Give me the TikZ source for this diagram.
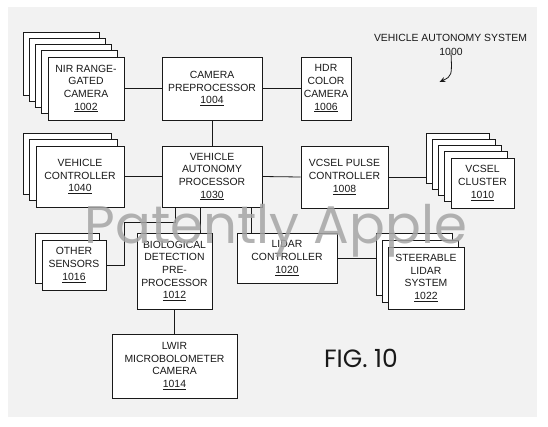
\documentclass[tikz,border=0pt]{standalone}
\usepackage{fontspec}
\setmainfont{Liberation Sans}
\newfontfamily\figfont{Poppins}
\usetikzlibrary{arrows.meta}
\definecolor{bgc}{RGB}{242,242,242}
\definecolor{inkc}{RGB}{25,25,25}
\definecolor{wmc}{RGB}{165,165,165}
\tikzset{
  box/.style={draw=inkc, fill=white, line width=0.8pt, inner sep=0pt, align=center,
    font=\fontsize{10.4}{12.7}\selectfont, text=inkc},
  wire/.style={draw=inkc, line width=0.8pt},
}
\begin{document}
\begin{tikzpicture}[x=1pt,y=-1pt]
\useasboundingbox (0,0) rectangle (548,426);
\fill[white] (0,0) rectangle (548,426);
\fill[bgc] (8,7) rectangle (537,417);

% NIR stack
\foreach \cx/\cy/\nm in {61/63.5/nirb4, 67.25/69.75/nirb3, 73.5/76/nirb2, 79.75/82.25/nirb1}
  \node[box, minimum width=76pt, minimum height=63pt] (\nm) at (\cx,\cy) {};
\node[box, minimum width=76pt, minimum height=63pt] (nir) at (86,88.5)
  {NIR RANGE-\\GATED\\CAMERA\\\underline{1002}};

% Camera preprocessor and HDR
\node[box, minimum width=100pt, minimum height=63pt] (cp) at (212,88.5)
  {CAMERA\\PREPROCESSOR\\\underline{1004}};
\node[box, minimum width=50pt, minimum height=63pt] (hdr) at (326,88.5)
  {HDR\\COLOR\\CAMERA\\\underline{1006}};

% Vehicle controller stack
\foreach \cx/\cy/\nm in {67/163.5/vcb2, 73.5/170/vcb1}
  \node[box, minimum width=88pt, minimum height=61pt] (\nm) at (\cx,\cy) {};
\node[box, minimum width=88pt, minimum height=61pt] (vc) at (80,176.5)
  {VEHICLE\\CONTROLLER\\\underline{1040}};

% VAP
\node[box, minimum width=100pt, minimum height=61pt] (vap) at (212,176.5)
  {VEHICLE\\AUTONOMY\\PROCESSOR\\\underline{1030}};

% VCSEL pulse controller
\node[box, minimum width=87pt, minimum height=62pt] (vpc) at (344.5,177)
  {VCSEL PULSE\\CONTROLLER\\\underline{1008}};

% VCSEL cluster stack
\foreach \cx/\cy/\nm in {457.5/158/vcsb4, 463.75/164.25/vcsb3, 470/170.5/vcsb2, 476.25/176.75/vcsb1}
  \node[box, minimum width=63pt, minimum height=50pt] (\nm) at (\cx,\cy) {};
\node[box, minimum width=63pt, minimum height=50pt] (vcs) at (482.5,183)
  {VCSEL\\CLUSTER\\\underline{1010}};

% Other sensors stack
\node[box, minimum width=64pt, minimum height=50pt] (osb1) at (67.5,258.5) {};
\node[box, minimum width=64pt, minimum height=50pt] (os) at (74,265)
  {OTHER\\SENSORS\\\underline{1016}};

% Biological detection
\node[box, minimum width=75pt, minimum height=76pt] (bio) at (174.5,271)
  {BIOLOGICAL\\DETECTION\\PRE-\\PROCESSOR\\\underline{1012}};

% Lidar controller
\node[box, minimum width=100pt, minimum height=50pt] (lc) at (287,258)
  {LIDAR\\CONTROLLER\\\underline{1020}};

% Steerable lidar stack
\foreach \cx/\cy/\nm in {414/264/slb2, 420/271/slb1}
  \node[box, minimum width=76pt, minimum height=62pt] (\nm) at (\cx,\cy) {};
\node[box, minimum width=76pt, minimum height=62pt] (sl) at (426,278)
  {STEERABLE\\LIDAR\\SYSTEM\\\underline{1022}};

% LWIR
\node[box, minimum width=125pt, minimum height=64pt] (lwir) at (174.5,366)
  {LWIR\\MICROBOLOMETER\\CAMERA\\\underline{1014}};

% connectors
\draw[wire] (nir.east) -- (cp.west);
\draw[wire] (cp.east) -- (hdr.west);
\draw[wire] (cp.south) -- (vap.north);
\draw[wire] (vc.east) -- (vap.west);
\draw[wire] (vap.east) -- (vpc.west);
\draw[wire] (vpc.east) -- (vpc.east -| vcsb4.west);
\coordinate (osbend) at (124,222);
\draw[wire] (os.east) -| (osbend) -| ([xshift=-37pt]vap.south);
\draw[wire] ([xshift=-12pt]vap.south) -- ([xshift=-12pt]vap.south |- bio.north);
\draw[wire] ([xshift=39pt]vap.south) -- ([xshift=39pt]vap.south |- lc.north);
\draw[wire] (bio.south) -- (lwir.north);
\draw[wire] (lc.east) -- (lc.east -| slb2.west);

% title
\node[font=\fontsize{10.4}{12.7}\selectfont, text=inkc, inner sep=0pt] (title) at (450.5,38) {VEHICLE AUTONOMY SYSTEM};
\node[font=\fontsize{10.4}{12.7}\selectfont, text=inkc, inner sep=0pt] (num) at (451,52) {1000};
\coordinate (arrowend) at (439.5,82);
\draw[wire, -{Stealth[length=6pt,width=5pt]}] ([yshift=3pt]num.south) .. controls (452,76) .. (arrowend);

% figure label
\node[font=\figfont\fontsize{25}{30}\selectfont, text=inkc, inner sep=0pt] (fig) at (361,358) {FIG. 10};

% watermark
\node[font=\figfont\fontsize{53}{60}\selectfont, text=wmc, opacity=0.85, inner sep=0pt, anchor=base] (wm) at (276,243) {Patently Apple};
\end{tikzpicture}
\end{document}
